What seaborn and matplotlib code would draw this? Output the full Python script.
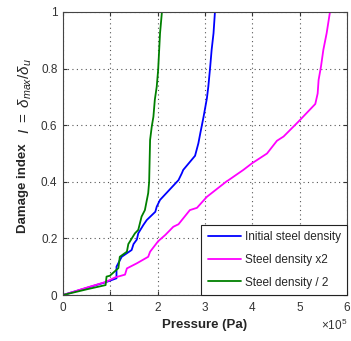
import matplotlib
matplotlib.use("Agg")
import matplotlib.pyplot as plt
import seaborn as sns
import pandas as pd
import numpy as np

# Pressure in units of 1e5 Pa, damage index
initial_x = [0, 0.5, 0.9, 1.13, 1.13, 1.24, 1.45, 1.49, 1.56, 1.59, 1.70, 1.77, 1.95, 1.98, 2.05,
             2.44, 2.51, 2.54, 2.79, 2.86, 2.90, 2.97, 3.04, 3.07, 3.11, 3.14, 3.18, 3.21]
initial_y = [0, 0.025, 0.045, 0.059, 0.10, 0.135, 0.159, 0.18, 0.196, 0.218, 0.248, 0.265, 0.294, 0.312, 0.336,
             0.406, 0.43, 0.442, 0.492, 0.536, 0.571, 0.63, 0.695, 0.736, 0.807, 0.866, 0.925, 1.0]

x2_x = [0, 0.5, 0.9, 1.10, 1.31, 1.35, 1.56, 1.80, 1.84, 2.01, 2.16, 2.33, 2.44, 2.68, 2.83, 3.04,
        3.46, 3.49, 3.81, 3.99, 4.31, 4.52, 4.66, 4.97, 5.33, 5.38, 5.40, 5.45, 5.50, 5.57, 5.64]
x2_y = [0, 0.026, 0.046, 0.062, 0.072, 0.094, 0.112, 0.135, 0.153, 0.19, 0.212, 0.241, 0.25, 0.30, 0.308, 0.347,
        0.402, 0.405, 0.442, 0.465, 0.50, 0.545, 0.56, 0.612, 0.675, 0.712, 0.76, 0.807, 0.866, 0.925, 1.0]

half_x = [0, 0.5, 0.9, 0.92, 0.99, 1.17, 1.20, 1.35, 1.38, 1.52, 1.59, 1.66, 1.73, 1.80, 1.82, 1.84,
          1.875, 1.91, 1.94, 1.98, 2.01, 2.05, 2.09]
half_y = [0, 0.02, 0.035, 0.065, 0.068, 0.095, 0.135, 0.153, 0.18, 0.218, 0.23, 0.277, 0.30, 0.36, 0.40, 0.548,
          0.595, 0.63, 0.69, 0.736, 0.795, 0.925, 1.0]

labels = ["Initial steel density", "Steel density x2", "Steel density / 2"]
colors = ["#0000ff", "#ff00ff", "#008000"]

frames = []
for lab, xs, ys in zip(labels, [initial_x, x2_x, half_x], [initial_y, x2_y, half_y]):
    frames.append(pd.DataFrame({"Pressure": np.array(xs) * 1e5, "Damage": ys, "Series": lab}))
df = pd.concat(frames, ignore_index=True)

sns.set_style("white")
plt.rcParams['font.family'] = ['Liberation Sans', 'DejaVu Sans']
plt.rcParams['mathtext.fontset'] = 'custom'
plt.rcParams['mathtext.rm'] = 'Liberation Sans'
plt.rcParams['mathtext.it'] = 'Liberation Sans:italic'
plt.rcParams['mathtext.bf'] = 'Liberation Sans:bold'

fig = plt.figure(figsize=(3.51, 3.41), dpi=100)
ax = fig.add_axes([63/351, 46/341, 284/351, 283/341])

sns.lineplot(data=df, x="Pressure", y="Damage", hue="Series", palette=colors,
             hue_order=labels, sort=False, estimator=None, units="Series",
             linewidth=1.3, ax=ax, legend=False)

for lab, c in zip(labels, colors):
    ax.plot([], [], color=c, lw=1.3, label=lab)

ax.set_xlim(0, 6e5)
ax.set_ylim(0, 1)
ax.set_xticks(np.arange(0, 7) * 1e5)
ax.set_yticks([0, 0.2, 0.4, 0.6, 0.8, 1.0])
ax.set_yticklabels(["0", "0.2", "0.4", "0.6", "0.8", "1"])
ax.ticklabel_format(axis='x', style='sci', scilimits=(5, 5), useMathText=True)
ax.xaxis.get_offset_text().set_fontsize(8.5)
ax.xaxis.get_offset_text().set_color('#333333')

ax.grid(True, linestyle=(0, (1, 3)), color='#555555', linewidth=0.8)
ax.tick_params(direction='in', length=3, labelsize=8.5, colors='#333333', top=True, right=True,
               bottom=True, left=True, labeltop=False, labelright=False, pad=4)
for s in ax.spines.values():
    s.set_color('#444444')
    s.set_linewidth(0.8)

ax.set_xlabel("Pressure (Pa)", fontsize=9.5, fontweight='bold', labelpad=4)
ax.set_ylabel("")
fig.text(23/351, 1 - 188/341, "Damage index", rotation=90, fontsize=9.5, fontweight='bold',
         ha='center', va='center')
fig.text(25/351, 1 - 96/341, r"$I\ =\ \delta_{max}/\delta_{u}$", rotation=90, fontsize=11,
         ha='center', va='center')

leg = ax.legend(loc='lower right', fontsize=8.5, frameon=True, fancybox=False,
                edgecolor='#222222', framealpha=1, borderaxespad=0, handlelength=2.8,
                handletextpad=0.3, borderpad=0.55, labelspacing=0.9)
leg.get_frame().set_linewidth(0.8)

fig.savefig("out.png", dpi=100)
